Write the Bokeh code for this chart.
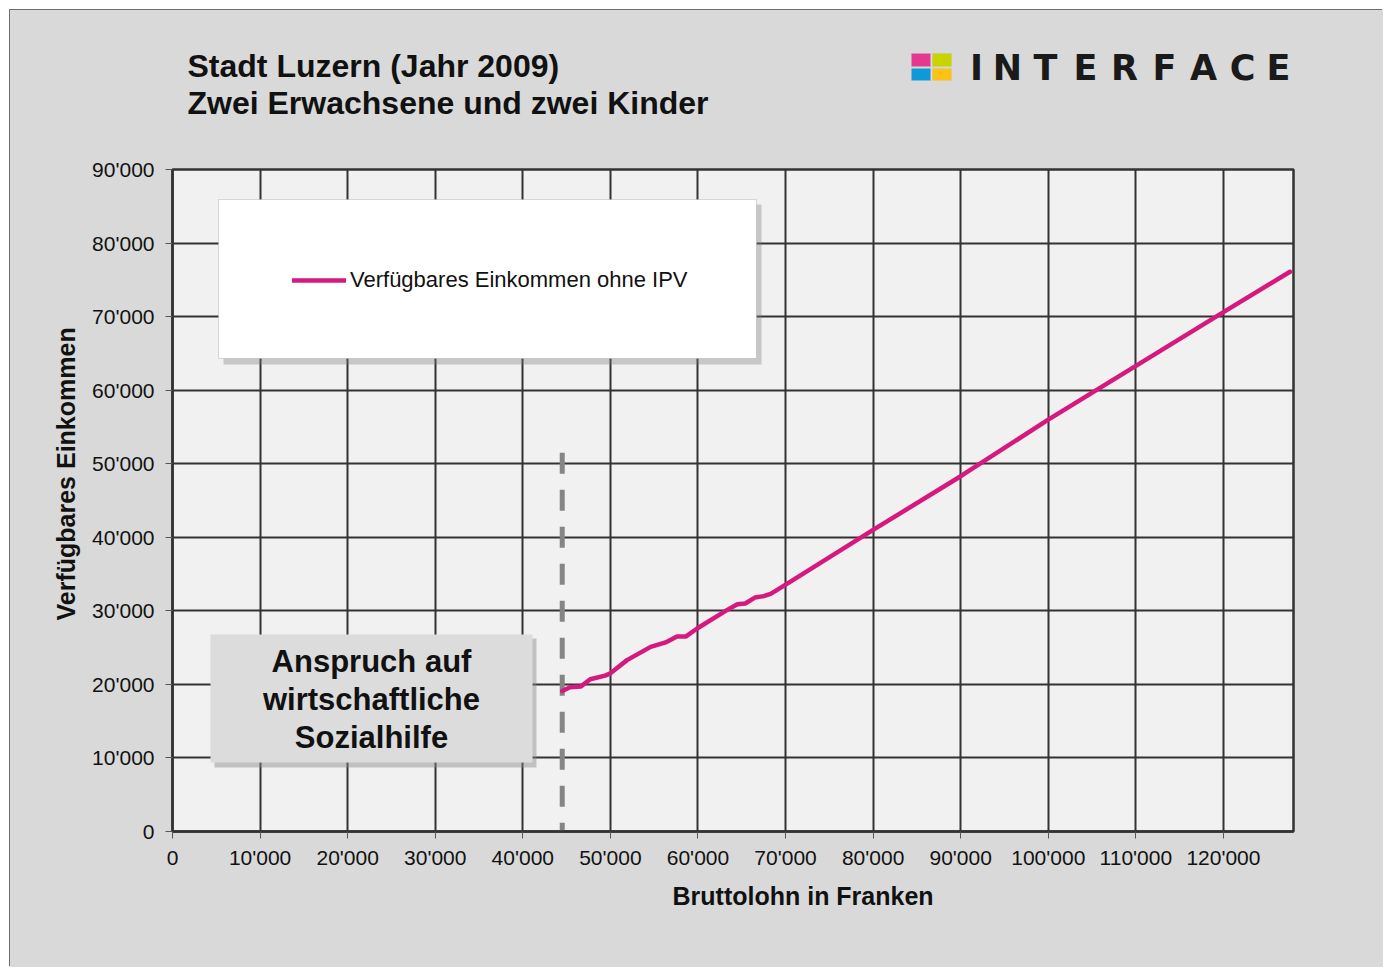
from bokeh.plotting import figure
from bokeh.models import FixedTicker, BoxAnnotation, Label, Legend, Range1d, Title
from bokeh.layouts import column
from bokeh.embed import file_html
from bokeh.resources import INLINE

# ---- data ----
bruttolohn = [44500, 45400, 46600, 47700, 49400, 50000, 51900, 54600, 56300, 57600,
              58600, 59900, 63300, 64500, 65400, 66500, 67500, 68300, 70200, 80000,
              90000, 100000, 110000, 120000, 127600]
einkommen = [19100, 19600, 19700, 20700, 21200, 21500, 23300, 25100, 25700, 26500,
             26500, 27600, 30100, 30900, 31000, 31800, 32000, 32300, 33700, 41000,
             48300, 56000, 63300, 70600, 76100]
series_name = "Verfügbares Einkommen ohne IPV"

sozialhilfe_grenze = [44500, 44500]
sozialhilfe_y = [51500, 0]

x_ticks = [0, 10000, 20000, 30000, 40000, 50000, 60000, 70000, 80000, 90000, 100000, 110000, 120000]
x_tick_labels = ["0", "10'000", "20'000", "30'000", "40'000", "50'000", "60'000", "70'000",
                 "80'000", "90'000", "100'000", "110'000", "120'000"]
y_ticks = [0, 10000, 20000, 30000, 40000, 50000, 60000, 70000, 80000, 90000]
y_tick_labels = ["0", "10'000", "20'000", "30'000", "40'000", "50'000", "60'000", "70'000",
                 "80'000", "90'000"]

title1 = "Stadt Luzern (Jahr 2009)"
title2 = "Zwei Erwachsene und zwei Kinder"
x_label = "Bruttolohn in Franken"
y_label = "Verfügbares Einkommen"
box_text = "Anspruch auf\nwirtschaftliche\nSozialhilfe"
logo_letters = list("INTERFACE")

X_MAX = 128000
Y_MAX = 90000

FONT = "Liberation Sans"
PANEL = "#d9d9d9"
W, H = 1383, 967
HEAD_H = 150
M = 10                                  # white page margin (left / top)
FL, FR, FT, FB = 172, 1293, 169, 831    # plot frame in page pixels

# ---------------- header (titles + logo) ----------------
# its frame is aligned with the chart frame by the column layout (x: FL..FR)
h = figure(width=W - M, height=HEAD_H - M, x_range=Range1d(FL, FR), y_range=Range1d(HEAD_H, M),
           x_axis_type=None, y_axis_type=None, output_backend="svg",
           toolbar_location=None, min_border=0, outline_line_color=None)
h.background_fill_alpha = 0
h.border_fill_color = PANEL

h.add_layout(Label(x=187, y=65, text=title1, text_font=FONT, text_font_size="32px",
                   text_font_style="bold", text_align="left", text_baseline="middle",
                   text_color="#111111"))
h.add_layout(Label(x=187, y=102, text=title2, text_font=FONT, text_font_size="32px",
                   text_font_style="bold", text_align="left", text_baseline="middle",
                   text_color="#111111"))

logo_boxes = [(911, 930, 53, 66, "#e4398f"), (932, 951, 53, 66, "#c8d300"),
              (911, 930, 68, 80, "#0e9ad8"), (932, 951, 68, 80, "#fcc314")]
for l, rr, t, b, c in logo_boxes:
    h.add_layout(BoxAnnotation(left=l, right=rr, top=t, bottom=b, fill_color=c,
                               fill_alpha=1, line_color="#b5b5b5", line_width=0.5))
logo_x = [976, 1007, 1045, 1085, 1124, 1164, 1203, 1242, 1278]
for ch, lx in zip(logo_letters, logo_x):
    h.add_layout(Label(x=lx, y=67, text=ch, text_font="DejaVu Sans", text_font_size="35px",
                       text_font_style="bold", text_align="center", text_baseline="middle",
                       text_color="#1a1a1a"))

# ---------------- main chart ----------------
def X(px):
    return (px - FL) / (FR - FL) * X_MAX
def Y(py):
    return (FB - py) / (FB - FT) * Y_MAX

p = figure(width=W - M, height=H - HEAD_H, x_range=(0, X_MAX), y_range=(0, Y_MAX),
           output_backend="svg", toolbar_location=None, title=None,
           min_border_left=FL - M, min_border_right=W - FR,
           min_border_top=FT - HEAD_H, min_border_bottom=H - FB)
p.border_fill_color = PANEL
p.background_fill_color = "#f1f1f1"
p.outline_line_color = "#333333"
p.outline_line_width = 2.5

p.xaxis.ticker = FixedTicker(ticks=x_ticks)
p.yaxis.ticker = FixedTicker(ticks=y_ticks)
p.xaxis.major_label_overrides = dict(zip(x_ticks, x_tick_labels))
p.yaxis.major_label_overrides = dict(zip(y_ticks, y_tick_labels))
for ax in (p.xaxis, p.yaxis):
    ax.axis_line_color = "#333333"
    ax.axis_line_width = 2.5
    ax.major_tick_out = 7
    ax.major_tick_in = 0
    ax.major_tick_line_color = "#555555"
    ax.major_tick_line_width = 1
    ax.minor_tick_line_color = None
    ax.major_label_text_font = FONT
    ax.major_label_text_font_size = "21px"
    ax.major_label_text_color = "#111111"
p.xaxis.major_label_standoff = 7
p.yaxis.major_label_standoff = 11

# axis titles (placed off-centre like the original)
p.add_layout(Title(text=x_label, align="left", offset=672 - FL, standoff=17,
                   text_font=FONT, text_font_size="25px", text_font_style="bold",
                   text_color="#111111"), "below")
p.add_layout(Title(text=y_label, align="left", offset=FB - 620, standoff=20,
                   text_font=FONT, text_font_size="25px", text_font_style="bold",
                   text_color="#111111"), "left")

p.xgrid.ticker = FixedTicker(ticks=x_ticks)
p.ygrid.ticker = FixedTicker(ticks=y_ticks)
for g in (p.xgrid, p.ygrid):
    g.grid_line_color = "#333333"
    g.grid_line_width = 2

# legend box + shadow
p.add_layout(BoxAnnotation(left=X(223), right=X(761), top=Y(204), bottom=Y(364),
                           fill_color="#777777", fill_alpha=0.35, line_color=None, level="glyph"))
p.add_layout(BoxAnnotation(left=X(218), right=X(756), top=Y(199), bottom=Y(358),
                           fill_color="#ffffff", fill_alpha=1, line_color="#8a8a8a",
                           line_width=1, level="glyph"))

# Sozialhilfe box + shadow
p.add_layout(BoxAnnotation(left=X(214), right=X(536), top=Y(638), bottom=Y(767),
                           fill_color="#888888", fill_alpha=0.45, line_color=None, level="glyph"))
p.add_layout(BoxAnnotation(left=X(210), right=X(532), top=Y(634), bottom=Y(762),
                           fill_color="#dcdcdc", fill_alpha=1, line_color=None, level="glyph"))
p.add_layout(Label(x=X(371), y=Y(699), text=box_text, text_font=FONT, text_font_size="31px",
                   text_font_style="bold", text_align="center", text_baseline="middle",
                   text_line_height=1.08, text_color="#111111"))

# dashed threshold line
p.line(sozialhilfe_grenze, sozialhilfe_y, line_color="#858585", line_width=5,
       line_dash="21 16", line_cap="butt")

# main line
r = p.line(bruttolohn, einkommen, line_color="#d6197f", line_width=4.5,
           line_cap="round", line_join="round")

legend = Legend(items=[(series_name, [r])], location=(292 - FL, FB - 293),
                padding=10, margin=0, spacing=0, glyph_width=54, glyph_height=20,
                label_height=20, label_standoff=4, label_text_font=FONT,
                label_text_font_size="22px", label_text_color="#111111",
                background_fill_alpha=0, border_line_color=None)
p.add_layout(legend)

layout = column(h, p, spacing=0, margin=(M, 0, 0, M),
                styles={"background-color": PANEL, "box-shadow": "-1px -1px 0 0 #6e6e6e"})
open("out.html", "w").write(file_html(layout, INLINE))
